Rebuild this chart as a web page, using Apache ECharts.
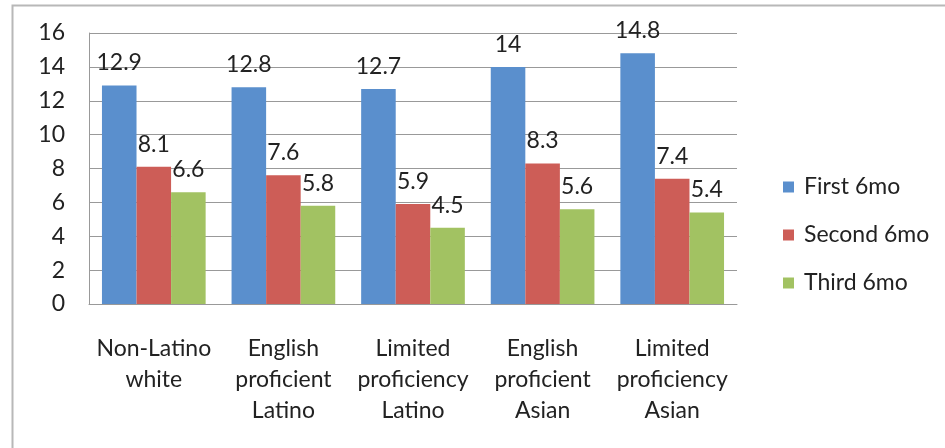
<!DOCTYPE html>
<html>
<head>
<meta charset="utf-8">
<script src="https://cdn.jsdelivr.net/npm/echarts@6/dist/echarts.min.js"></script>
<style>html,body{margin:0;padding:0;background:#fff;}#c{width:945px;height:448px;}</style>
</head>
<body>
<div id="c"></div>
<script>
const categories = ['Non-Latino\nwhite', 'English\nproficient\nLatino', 'Limited\nproficiency\nLatino', 'English\nproficient\nAsian', 'Limited\nproficiency\nAsian'];
const seriesNames = ['First 6mo', 'Second 6mo', 'Third 6mo'];
const first6mo = [12.9, 12.8, 12.7, 14, 14.8];
const second6mo = [8.1, 7.6, 5.9, 8.3, 7.4];
const third6mo = [6.6, 5.8, 4.5, 5.6, 5.4];
const yTicks = {min: 0, max: 16, interval: 2};

const colors = ['#5A8FCD', '#CD5D57', '#A2C262'];
const font = 'Lato, "Open Sans", sans-serif';
const values = [first6mo, second6mo, third6mo];

const chart = echarts.init(document.getElementById('c'), null, {renderer: 'canvas'});
chart.setOption({
  animation: false,
  backgroundColor: '#fff',
  graphic: [{
    type: 'rect', left: 10, top: 3, z: -1,
    shape: {width: 960, height: 470},
    style: {fill: 'none', stroke: '#b8b8b8', lineWidth: 2}
  }],
  grid: {left: 89, top: 33, right: 208, bottom: 144},
  legend: {
    orient: 'vertical', left: 778, top: 170,
    itemWidth: 11, itemHeight: 11, itemGap: 24,
    icon: 'rect',
    textStyle: {fontFamily: font, fontSize: 23, color: '#222', lineHeight: 24, padding: [0, 0, 0, 5]},
    data: seriesNames
  },
  xAxis: {
    type: 'category', data: categories,
    axisLine: {lineStyle: {color: '#999', width: 1}},
    axisTick: {show: false},
    axisLabel: {fontFamily: font, fontSize: 23, color: '#222', lineHeight: 31, margin: 29, interval: 0}
  },
  yAxis: {
    type: 'value', min: yTicks.min, max: yTicks.max, interval: yTicks.interval,
    axisLine: {show: true, lineStyle: {color: '#999', width: 1}},
    axisTick: {show: false},
    splitLine: {lineStyle: {color: '#999', width: 1}},
    axisLabel: {fontFamily: font, fontSize: 23, color: '#222', margin: 24}
  },
  series: seriesNames.map((n, i) => ({
    name: n, type: 'bar', data: values[i],
    barGap: '0%', barCategoryGap: '20%',
    itemStyle: {color: colors[i]},
    label: {show: true, position: 'top', distance: 11, fontFamily: font, fontSize: 23, color: '#222'}
  }))
});
</script>
</body>
</html>
